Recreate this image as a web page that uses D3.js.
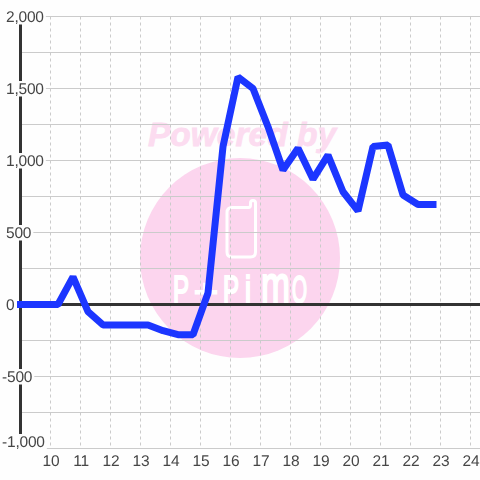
<html>
<head>
 <meta http-equiv="Content-Type" content="text/html; charset=UTF-8">
 <title>Line chart</title>
 <style>
html, body {
	margin: 0;
	padding: 0;
	background: #fefefe;
}
svg {
	display: block;
	font-family: "Liberation Sans", sans-serif;
}
.grid_h {
	stroke: #cbcbcb;
	stroke-width: 1;
}
.grid_v {
	stroke: #cbcbcb;
	stroke-width: 1;
	stroke-dasharray: 3 3;
}
.axis_line {
	stroke: #333;
	stroke-width: 3;
}
.tick_label {
	fill: #444;
	font-size: 15.5px;
	letter-spacing: -0.2px;
	text-rendering: geometricPrecision;
}
.labels {
	opacity: 0.99;
	will-change: opacity;
}
 </style>
 <script src="https://cdn.jsdelivr.net/npm/d3@7"></script>
</head>
<body>
<div id="chart"></div>
<script>
// hours, 30 minute steps
var hours = [9, 9.25, 9.75, 10.25, 10.75, 11.25, 11.75, 12.25, 12.75, 13.25, 13.75, 14.25, 14.75,
	15.25, 15.75, 16.25, 16.75, 17.25, 17.75, 18.25, 18.75, 19.25, 19.75, 20.25, 20.75, 21.25,
	21.75, 22.25, 22.75];
var values = [0, 0, 0, 0, 192, -50, -142, -142, -142, -142, -182, -210, -210,
	80, 1097, 1580, 1500, 1235, 934, 1085, 870, 1037, 783, 650, 1097, 1107,
	760, 695, 695];
var xTicks = [10, 11, 12, 13, 14, 15, 16, 17, 18, 19, 20, 21, 22, 23, 24];
var yTicks = [2000, 1500, 1000, 500, 0, -500, -1000];
var yMinorTicks = [1750, 1250, 750, 250, -250, -750];

var width = 480, height = 480;

var x = d3.scaleLinear().domain([10, 24]).range([50.5, 470.5]);
var y = d3.scaleLinear().domain([-1000, 2000]).range([448.5, 16.5]);

var svg = d3.select("#chart").append("svg")
	.attr("width", width)
	.attr("height", height);

// watermark
var mark = svg.append("g");
mark.append("circle")
	.attr("cx", 240).attr("cy", 258).attr("r", 100)
	.attr("fill", "#fcd5ee");
mark.append("text")
	.attr("x", 242).attr("y", 146)
	.attr("text-anchor", "middle")
	.attr("font-size", 33.5).attr("font-weight", "bold").attr("font-style", "italic")
	.attr("fill", "#fcdcf0")
	.attr("stroke", "#fcdcf0").attr("stroke-width", 0.8)
	.text("Powered by");
mark.append("path")
	.attr("d", "M232 207.5H248.5Q250.5 207.5 250.5 205V203Q250.5 200.5 253 200.5Q255.5 200.5 255.5 203V252Q255.5 257 250.5 257H232Q227 257 227 252V212.5Q227 207.5 232 207.5Z")
	.attr("fill", "none").attr("stroke", "#fff").attr("stroke-width", 3);

// logo letters, each squeezed into its own slot
var logo = [
	{c: "P", x: 173, w: 16, size: 39, base: 303},
	{c: "+", x: 194, w: 24, size: 36, base: 304},
	{c: "P", x: 223, w: 16, size: 39, base: 303},
	{c: "i", x: 245, w: 6, size: 39, base: 303},
	{c: "m", x: 261, w: 29, size: 54, base: 303},
	{c: "O", x: 292, w: 15, size: 38, base: 303}
];
mark.append("g").selectAll("text")
	.data(logo).enter().append("text")
	.attr("font-size", function(d){ return d.size; })
	.attr("fill", "#fff")
	.attr("stroke", "#fff").attr("stroke-width", 2.2)
	.text(function(d){ return d.c; })
	.attr("transform", function(d){
		var sx = d.w / this.getComputedTextLength();
		return "translate(" + d.x + "," + d.base + ") scale(" + sx + ",1)";
	});

// grid
svg.append("g").selectAll("line")
	.data(xTicks).enter().append("line")
	.attr("class", "grid_v")
	.attr("x1", function(d){ return x(d); })
	.attr("x2", function(d){ return x(d); })
	.attr("y1", y(2000)).attr("y2", y(-1000));

svg.append("g").selectAll("line")
	.data(yTicks.concat(yMinorTicks)).enter().append("line")
	.attr("class", "grid_h")
	.attr("x1", x(10) - 30).attr("x2", width)
	.attr("y1", function(d){ return Math.round(y(d) - 0.5) + 0.5; })
	.attr("y2", function(d){ return Math.round(y(d) - 0.5) + 0.5; });

// axis lines
svg.append("line").attr("class", "axis_line")
	.attr("x1", x(9)).attr("x2", x(9))
	.attr("y1", y(2000)).attr("y2", y(-1000));
svg.append("line").attr("class", "axis_line")
	.attr("x1", x(9)).attr("x2", width)
	.attr("y1", y(0)).attr("y2", y(0));

// y labels sit on a white box that cuts the axis line
var yLabels = svg.append("g").attr("class", "labels").selectAll("g")
	.data(yTicks).enter().append("g");
yLabels.append("rect").attr("fill", "#fefefe");
yLabels.append("text")
	.attr("class", "tick_label")
	.attr("x", function(d){ return d < 0 ? 2 : 6; })
	.attr("y", function(d){ return (d == -1000 ? y(d) - 7 : y(d)) + 5.5; })
	.text(function(d){ return d3.format(",")(d).replace("\u2212", "-"); });
yLabels.each(function(){
	var g = d3.select(this);
	var box = g.select("text").node().getBBox();
	g.select("rect")
		.attr("x", 0)
		.attr("y", box.y)
		.attr("width", box.x + box.width + 1.5)
		.attr("height", 15.5);
});

// x labels
svg.append("g").attr("class", "labels").selectAll("text")
	.data(xTicks).enter().append("text")
	.attr("class", "tick_label")
	.attr("text-anchor", "middle")
	.attr("x", function(d){ return x(d) + 0.5; })
	.attr("y", 466)
	.text(function(d){ return d; });

// series
var line = d3.line()
	.x(function(d, i){ return x(hours[i]); })
	.y(function(d){ return y(d); });

svg.append("path")
	.datum(values)
	.attr("d", line)
	.attr("fill", "none")
	.attr("stroke", "#1c36ff")
	.attr("stroke-width", 7)
	.attr("stroke-linecap", "square")
	.attr("stroke-linejoin", "bevel");
</script>
</body>
</html>
